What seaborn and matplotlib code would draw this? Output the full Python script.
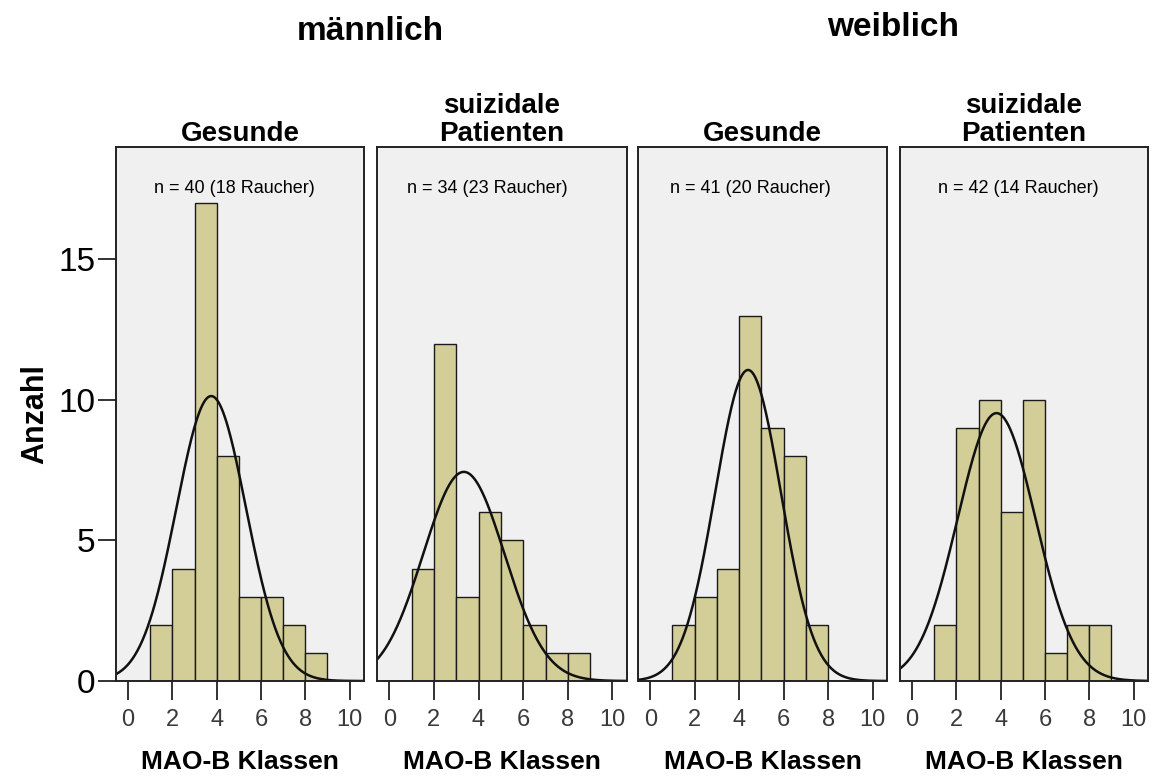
import numpy as np
import pandas as pd
import matplotlib
matplotlib.use("Agg")
import matplotlib.pyplot as plt
import seaborn as sns

sns.set_theme(style="white")
plt.rcParams["font.family"] = ["Liberation Sans", "DejaVu Sans"]
plt.rcParams["text.color"] = "black"
plt.rcParams["axes.labelcolor"] = "black"

# MAO-B class bins (width 1, from 1 to 9)
bin_edges = [1, 2, 3, 4, 5, 6, 7, 8, 9]

# Counts per bin for each group
m_gesund = [2, 4, 17, 8, 3, 3, 2, 1]
m_suizid = [4, 12, 3, 6, 5, 2, 1, 1]
w_gesund = [2, 3, 4, 13, 9, 8, 2, 0]
w_suizid = [2, 9, 10, 6, 10, 1, 2, 2]

# Normal fit parameters (mean, sd) of the underlying MAO-B values
fit_means = [3.75, 3.34, 4.40, 3.81]
fit_sds = [1.574, 1.823, 1.478, 1.758]

n_total = [40, 34, 41, 42]
n_smokers = [18, 23, 20, 14]

panel_titles = ["Gesunde", "suizidale\nPatienten", "Gesunde", "suizidale\nPatienten"]
sex_titles = ["männlich", "weiblich"]
x_ticks = [0, 2, 4, 6, 8, 10]
y_ticks = [0, 5, 10, 15]

counts_all = [m_gesund, m_suizid, w_gesund, w_suizid]

bar_color = "#D3CD97"
panel_bg = "#F0F0F0"

fig = plt.figure(figsize=(11.6, 7.8), dpi=100)
W, H = 1160, 780
lefts = [116, 377, 638, 900]
widths = [248, 250, 249, 248]
top_px, bottom_px = 147, 681

axes = []
for i in range(4):
    ax = fig.add_axes([lefts[i] / W, 1 - bottom_px / H, widths[i] / W,
                       (bottom_px - top_px) / H])
    axes.append(ax)
    ax.set_facecolor(panel_bg)
    mids = np.array(bin_edges[:-1]) + 0.5
    df = pd.DataFrame({"klasse": mids, "anzahl": counts_all[i]})
    sns.histplot(data=df, x="klasse", weights="anzahl", bins=bin_edges, ax=ax,
                 color=bar_color, edgecolor="#1a1a1a", linewidth=1.0, alpha=1.0)
    # Fitted normal curve scaled to counts (bin width 1)
    xs = np.linspace(-0.6, 10.7, 400)
    mu, sd = fit_means[i], fit_sds[i]
    ys = n_total[i] * np.exp(-0.5 * ((xs - mu) / sd) ** 2) / (sd * np.sqrt(2 * np.pi))
    sns.lineplot(x=xs, y=ys, ax=ax, color="#111111", linewidth=1.8)

    ax.set_xlim(-0.55, 10.65)
    ax.set_ylim(0, 19)
    ax.set_xticks(x_ticks)
    ax.set_xticklabels([str(t) for t in x_ticks], fontsize=17, color="#3a3a3a")
    ax.tick_params(axis="x", direction="out", length=14, width=1.3, color="#222222",
                   pad=6, bottom=True)
    if i == 0:
        ax.set_yticks(y_ticks)
        ax.set_yticklabels([str(t) for t in y_ticks], fontsize=24, color="black")
        ax.tick_params(axis="y", direction="out", length=13, width=1.3,
                       color="#222222", pad=2, left=True)
    else:
        ax.set_yticks([])
    ax.set_ylabel("")
    ax.set_xlabel("MAO-B Klassen", fontsize=19, fontweight="bold", labelpad=14,
                  color="black")
    for sp in ax.spines.values():
        sp.set_visible(True)
        sp.set_color("#222222")
        sp.set_linewidth(1.4)
    ax.text(0.5, 1.0, panel_titles[i], transform=ax.transAxes, ha="center",
            va="bottom", fontsize=20, fontweight="bold", linespacing=1.08,
            color="black")

n_xpos = [0.476, 0.44, 0.45, 0.476]
for i, ax in enumerate(axes):
    ax.text(n_xpos[i], 0.923, f"n = {n_total[i]} ({n_smokers[i]} Raucher)",
            transform=ax.transAxes, ha="center", va="center", fontsize=13,
            color="black")

fig.text(370 / W, 1 - 40 / H, sex_titles[0], ha="center", va="baseline",
         fontsize=24, fontweight="bold", color="black")
fig.text(893 / W, 1 - 36 / H, sex_titles[1], ha="center", va="baseline",
         fontsize=24, fontweight="bold", color="black")
fig.text(35 / W, 1 - 414 / H, "Anzahl", ha="center", va="center", rotation=90,
         fontsize=22, fontweight="bold", color="black")

fig.savefig("out.png", dpi=100, facecolor="white")
